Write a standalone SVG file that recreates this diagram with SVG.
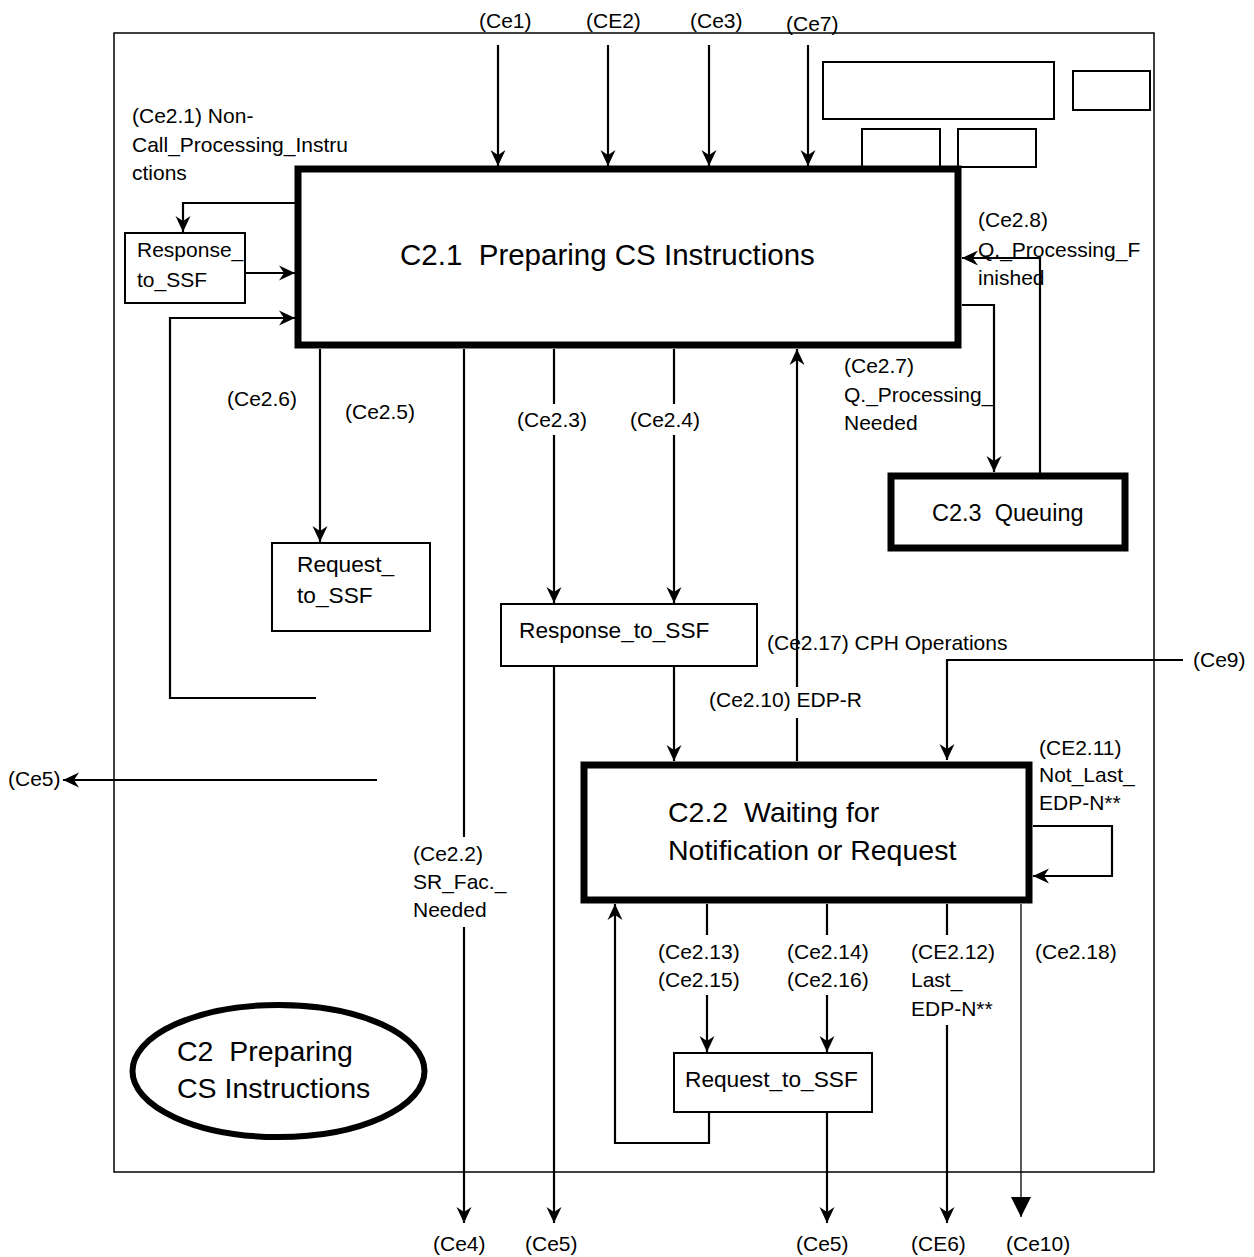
<svg xmlns="http://www.w3.org/2000/svg" width="1254" height="1257" viewBox="0 0 1254 1257">
<style>
text{font-family:"Liberation Sans",Arial,sans-serif;fill:#000;white-space:pre}
.lb{font-size:21px}
.bx{font-size:22.7px}
.ttl{font-size:28.5px}
.thick{fill:#fff;stroke:#000;stroke-width:7}
.box{fill:#fff;stroke:#000;stroke-width:2}
.frame{fill:none;stroke:#000;stroke-width:1.5}
.c{fill:none;stroke:#000;stroke-width:2.2}
.a{marker-end:url(#ah)}
</style>
<defs>
<marker id="ah" markerUnits="userSpaceOnUse" viewBox="-17 -8 18 16" refX="0" refY="0" markerWidth="18" markerHeight="16" orient="auto" overflow="visible">
<path d="M0,0 L-16,-7.5 L-11,0 L-16,7.5 Z" fill="#000"/>
</marker>
<marker id="tri" markerUnits="userSpaceOnUse" viewBox="-21 -11 22 22" refX="0" refY="0" markerWidth="22" markerHeight="22" orient="auto" overflow="visible">
<path d="M0,0 L-20,-10 L-20,10 Z" fill="#000"/>
</marker>
</defs>

<rect id="frame" class="frame" x="114" y="33" width="1040" height="1139"/>

<g id="blank-boxes">
<rect class="box" x="823" y="62" width="231" height="57"/>
<rect class="box" x="1073" y="71" width="77" height="39"/>
<rect class="box" x="862" y="129" width="78" height="40"/>
<rect class="box" x="958" y="129" width="78" height="38"/>
</g>

<g id="connectors">
<path class="c a" d="M498,45 V166"/>
<path class="c a" d="M608,45 V166"/>
<path class="c a" d="M709,45 V166"/>
<path class="c a" d="M808,45 V166"/>
<path class="c a" d="M295,203 H183 V232"/>
<path class="c a" d="M245,273 H295"/>
<path class="c a" d="M316,698 H170 V318 H295"/>
<path class="c a" d="M320,349 V542"/>
<path class="c" d="M464,349 V837"/>
<path class="c a" d="M464,927 V1223"/>
<path class="c a" d="M377,780 H63"/>
<path class="c" d="M554,349 V404"/>
<path class="c a" d="M554,435 V603"/>
<path class="c" d="M674,349 V404"/>
<path class="c a" d="M674,435 V603"/>
<path class="c a" d="M554,666 V1223"/>
<path class="c a" d="M674,666 V761"/>
<path class="c" d="M797,761 V718"/>
<path class="c a" d="M797,687 V349"/>
<path class="c a" d="M962,305 H994 V472"/>
<path class="c a" d="M1040,473 V258 H962"/>
<path class="c a" d="M1183,660 H947 V760"/>
<path class="c a" d="M1033,826 H1112 V876 H1033"/>
<path class="c" d="M707,904 V935"/>
<path class="c a" d="M707,995 V1052"/>
<path class="c" d="M827,904 V935"/>
<path class="c a" d="M827,995 V1052"/>
<path class="c a" d="M827,1112 V1223"/>
<path class="c" d="M947,904 V935"/>
<path class="c a" d="M947,1025 V1223"/>
<path fill="none" stroke="#000" stroke-width="1.3" marker-end="url(#tri)" d="M1021,904 V1217"/>
<path class="c a" d="M709,1112 V1143 H615 V904"/>
</g>

<g id="C2.1">
<rect class="thick" x="298" y="169" width="660" height="176"/>
<text class="ttl" x="400" y="265" style="font-size:29.5px">C2.1  Preparing CS Instructions</text>
</g>

<g id="C2.2">
<rect class="thick" x="584" y="765" width="445" height="135"/>
<text class="ttl" x="668" y="822">C2.2  Waiting for</text>
<text class="ttl" x="668" y="860">Notification or Request</text>
</g>

<g id="C2.3">
<rect class="thick" x="891" y="476" width="234" height="72"/>
<text class="bx" x="932" y="521" style="font-size:23.5px">C2.3  Queuing</text>
</g>

<g id="response-left">
<rect class="box" x="125" y="233" width="120" height="70"/>
<text class="lb" x="137" y="257">Response_</text>
<text class="lb" x="137" y="287">to_SSF</text>
</g>

<g id="request-left">
<rect class="box" x="272" y="543" width="158" height="88"/>
<text class="bx" x="297" y="572">Request_</text>
<text class="bx" x="297" y="603">to_SSF</text>
</g>

<g id="response-mid">
<rect class="box" x="501" y="604" width="256" height="62"/>
<text class="bx" x="519" y="638">Response_to_SSF</text>
</g>

<g id="request-bottom">
<rect class="box" x="674" y="1053" width="198" height="59"/>
<text class="bx" x="685" y="1087">Request_to_SSF</text>
</g>

<g id="C2-ellipse">
<ellipse cx="278.5" cy="1071" rx="146" ry="66" fill="#fff" stroke="#000" stroke-width="6"/>
<text class="ttl" x="177" y="1061">C2  Preparing</text>
<text class="ttl" x="177" y="1098">CS Instructions</text>
</g>

<g id="labels">
<text class="lb" x="479" y="28">(Ce1)</text>
<text class="lb" x="586" y="28">(CE2)</text>
<text class="lb" x="690" y="28">(Ce3)</text>
<text class="lb" x="786" y="31">(Ce7)</text>
<text class="lb" x="132" y="123">(Ce2.1) Non-</text>
<text class="lb" x="132" y="152">Call_Processing_Instru</text>
<text class="lb" x="132" y="180">ctions</text>
<text class="lb" x="978" y="227">(Ce2.8)</text>
<text class="lb" x="978" y="257">Q._Processing_F</text>
<text class="lb" x="978" y="285">inished</text>
<text class="lb" x="844" y="373">(Ce2.7)</text>
<text class="lb" x="844" y="402">Q._Processing_</text>
<text class="lb" x="844" y="430">Needed</text>
<text class="lb" x="227" y="406">(Ce2.6)</text>
<text class="lb" x="345" y="419">(Ce2.5)</text>
<text class="lb" x="517" y="427">(Ce2.3)</text>
<text class="lb" x="630" y="427">(Ce2.4)</text>
<text class="lb" x="767" y="650">(Ce2.17) CPH Operations</text>
<text class="lb" x="709" y="707">(Ce2.10) EDP-R</text>
<text class="lb" x="1193" y="667">(Ce9)</text>
<text class="lb" x="8" y="786">(Ce5)</text>
<text class="lb" x="1039" y="755">(CE2.11)</text>
<text class="lb" x="1039" y="782">Not_Last_</text>
<text class="lb" x="1039" y="810">EDP-N**</text>
<text class="lb" x="413" y="861">(Ce2.2)</text>
<text class="lb" x="413" y="889">SR_Fac._</text>
<text class="lb" x="413" y="917">Needed</text>
<text class="lb" x="658" y="959">(Ce2.13)</text>
<text class="lb" x="658" y="987">(Ce2.15)</text>
<text class="lb" x="787" y="959">(Ce2.14)</text>
<text class="lb" x="787" y="987">(Ce2.16)</text>
<text class="lb" x="911" y="959">(CE2.12)</text>
<text class="lb" x="911" y="987">Last_</text>
<text class="lb" x="911" y="1016">EDP-N**</text>
<text class="lb" x="1035" y="959">(Ce2.18)</text>
<text class="lb" x="433" y="1251">(Ce4)</text>
<text class="lb" x="525" y="1251">(Ce5)</text>
<text class="lb" x="796" y="1251">(Ce5)</text>
<text class="lb" x="911" y="1251">(CE6)</text>
<text class="lb" x="1006" y="1251">(Ce10)</text>
</g>
</svg>
